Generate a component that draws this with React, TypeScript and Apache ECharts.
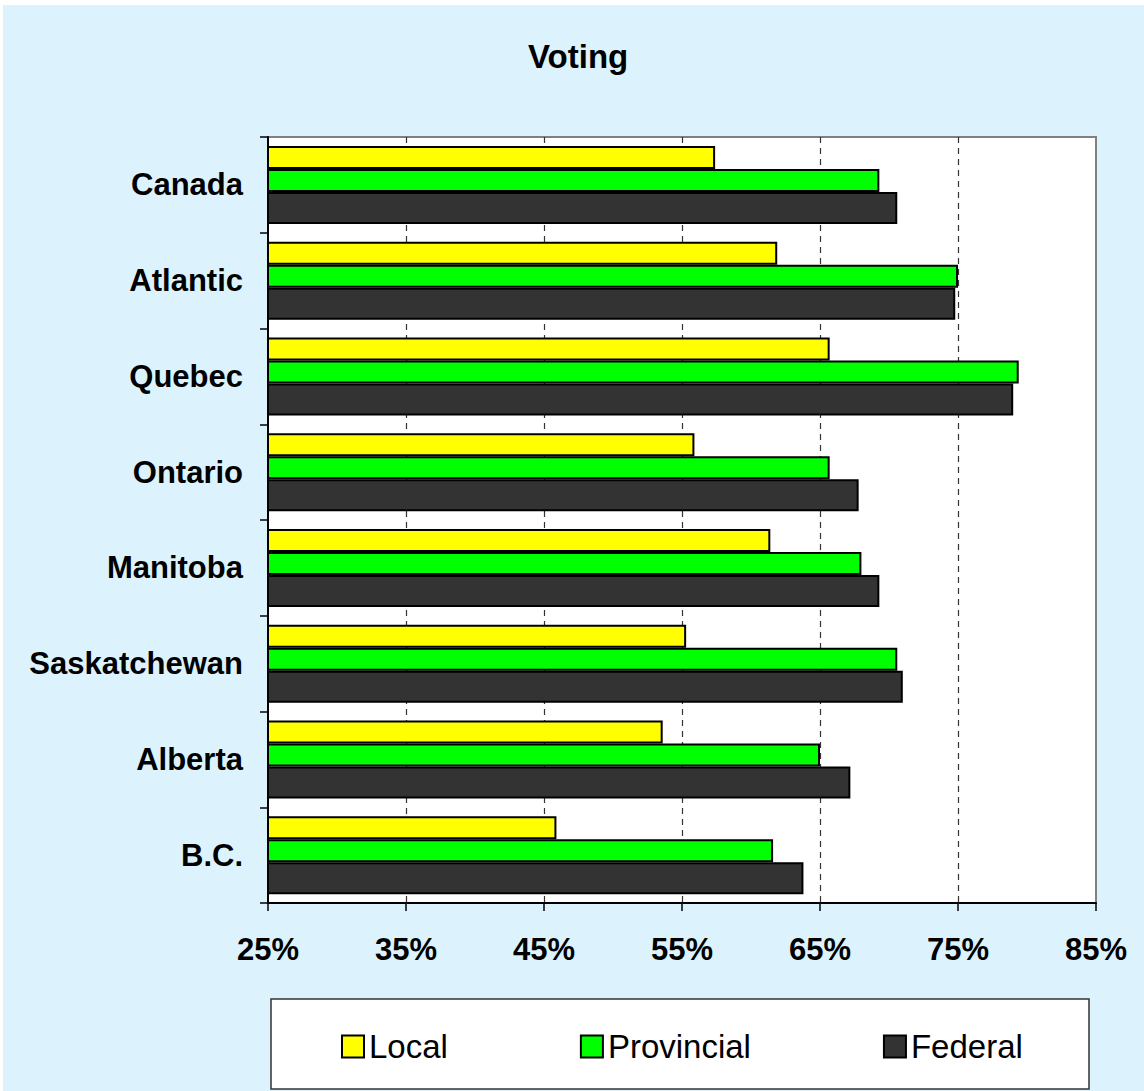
import React, { useEffect, useRef } from "react";
import * as echarts from "echarts";

const categories = ["Canada", "Atlantic", "Quebec", "Ontario", "Manitoba", "Saskatchewan", "Alberta", "B.C."];
const localValues = [57.4, 61.9, 65.7, 55.9, 61.4, 55.3, 53.6, 45.9];
const provincialValues = [69.3, 75.0, 79.4, 65.7, 68.0, 70.6, 65.0, 61.6];
const federalValues = [70.6, 74.8, 79.0, 67.8, 69.3, 71.0, 67.2, 63.8];
const seriesNames = ["Local", "Provincial", "Federal"];

export default function App() {
  const ref = useRef<HTMLDivElement>(null);
  useEffect(() => {
    if (!ref.current) return;
    const chart = echarts.init(ref.current, null, { renderer: "svg" });
    const font = "Arial, 'Liberation Sans', sans-serif";
    const barStyle = (color: string) => ({ color, borderColor: "#000", borderWidth: 2 });
    chart.setOption({
      animation: false,
      backgroundColor: "#ffffff",
      textStyle: { fontFamily: font },
      title: {
        text: "Voting",
        left: 523,
        top: 35,
        textStyle: { fontSize: 33, fontWeight: "bold", color: "#000", fontFamily: font },
      },
      graphic: [
        {
          type: "rect",
          z: -10,
          shape: { x: 3, y: 5, width: 1141, height: 1086 },
          style: { fill: "#DCF3FE" },
          silent: true,
        },
        {
          type: "rect",
          z: 0,
          shape: { x: 271, y: 999, width: 818, height: 90 },
          style: { fill: "#ffffff", stroke: "#333333", lineWidth: 1.5 },
          silent: true,
        },
      ],
      legend: {
        data: seriesNames,
        left: 336,
        top: 1025,
        itemWidth: 22,
        itemHeight: 22,
        itemGap: 132,
        icon: "rect",
        textStyle: { fontSize: 33, color: "#000", fontFamily: font },
        z: 5,
      },
      grid: {
        left: 268,
        right: 48,
        top: 137,
        bottom: 188,
        show: true,
        backgroundColor: "#ffffff",
        borderColor: "#808080",
        borderWidth: 2,
        containLabel: false,
      },
      xAxis: {
        type: "value",
        min: 25,
        max: 85,
        interval: 10,
        axisLine: { show: true, lineStyle: { color: "#000", width: 2 } },
        axisTick: { show: true, inside: false, length: 8, lineStyle: { color: "#000", width: 1.5 } },
        axisLabel: {
          formatter: "{value}%",
          fontSize: 31,
          fontWeight: "bold",
          color: "#000",
          margin: 31,
          fontFamily: font,
        },
        splitLine: {
          show: true,
          showMinLine: false,
          showMaxLine: false,
          lineStyle: { color: "#333", type: [6, 5], width: 1.2 },
        },
      },
      yAxis: {
        type: "category",
        data: categories,
        inverse: true,
        axisLine: { show: true, lineStyle: { color: "#000", width: 2 } },
        axisTick: { show: true, inside: false, length: 8, lineStyle: { color: "#000", width: 1.5 } },
        axisLabel: {
          fontSize: 31,
          fontWeight: "bold",
          color: "#000",
          margin: 25,
          fontFamily: font,
        },
        splitLine: { show: false },
      },
      series: [
        { name: "Local", type: "bar", data: localValues, barWidth: 23, barGap: "0%", itemStyle: barStyle("#FFFF00") },
        { name: "Provincial", type: "bar", data: provincialValues, barWidth: 23, barGap: "0%", itemStyle: barStyle("#00FF00") },
        { name: "Federal", type: "bar", data: federalValues, barWidth: 32, barGap: "0%", itemStyle: barStyle("#333333") },
      ],
    });
    return () => chart.dispose();
  }, []);
  return <div ref={ref} style={{ position: "absolute", left: 0, top: 0, width: 1144, height: 1091 }} />;
}
